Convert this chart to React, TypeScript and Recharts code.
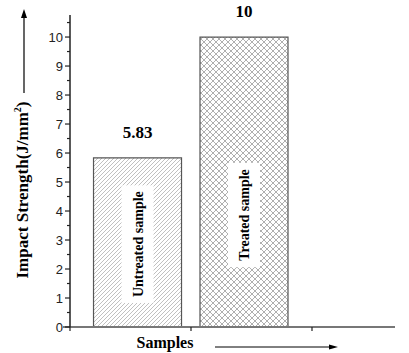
import React from 'react';
import { BarChart, Bar, XAxis, YAxis, LabelList, Cell } from 'recharts';

const categories = ['Untreated sample', 'Treated sample'];
const positions = [0.56, 1.44];
const impactStrength = [5.83, 10];
const valueLabels = ['5.83', '10'];
const yTicks = [0, 0.5, 1, 1.5, 2, 2.5, 3, 3.5, 4, 4.5, 5, 5.5, 6, 6.5, 7, 7.5, 8, 8.5, 9, 9.5, 10, 10.5];
const xTicks = [0, 1, 2];

const data = categories.map((c, i) => ({
  name: c,
  x: positions[i],
  value: impactStrength[i],
  label: valueLabels[i],
}));

const patterns = ['url(#hatch)', 'url(#cross)'];

const SERIF = '"Liberation Serif", "Times New Roman", serif';
const SANS = '"Liberation Sans", Arial, sans-serif';

const YTick = (props: any) => {
  const { x, y, payload } = props;
  const v = payload.value;
  const major = Math.abs(v - Math.round(v)) < 1e-6;
  return (
    <g>
      <line x1={x} x2={x - (major ? 5 : 3)} y1={y} y2={y} stroke="#222" strokeWidth={1.2} />
      {major && (
        <text x={x - 7} y={y} dy={4.5} textAnchor="end" fontFamily={SANS} fontSize={13} fill="#222">
          {v}
        </text>
      )}
    </g>
  );
};

const InsideLabel = (props: any) => {
  const { x, y, width, height, index } = props;
  const text = categories[index];
  const cx = x + width / 2;
  const cy = y + height - Math.min(height * 0.49, 112);
  const len = text.length * 6.6 + 12;
  return (
    <g>
      <rect x={cx - 16} y={cy - len / 2} width={32} height={len} fill="#fff" />
      <text
        x={cx}
        y={cy}
        transform={`rotate(-90 ${cx} ${cy})`}
        textAnchor="middle"
        dy={5}
        fontFamily={SERIF}
        fontWeight="bold"
        fontSize={14}
        fill="#000"
      >
        {text}
      </text>
    </g>
  );
};

const ValueLabel = (props: any) => {
  const { x, y, width, index } = props;
  return (
    <text
      x={x + width / 2}
      y={y - 20}
      textAnchor="middle"
      fontFamily={SERIF}
      fontWeight="bold"
      fontSize={17}
      fill="#000"
    >
      {valueLabels[index]}
    </text>
  );
};

const YLabel = () => (
  <g>
    <text
      x={22}
      y={190}
      transform="rotate(-90 22 190)"
      textAnchor="middle"
      dy={6}
      fontFamily={SERIF}
      fontWeight="bold"
      fontSize={17}
      fill="#000"
    >
      Impact Strength(J/mm<tspan dy={-7} fontSize={10}>2</tspan>
      <tspan dy={7}>)</tspan>
    </text>
    <line x1={24} x2={24} y1={93} y2={16} stroke="#000" strokeWidth={1.2} />
    <path d="M24,9 L21,18 L27,18 Z" fill="#000" />
  </g>
);

const XLabel = () => (
  <g>
    <text x={165} y={348} textAnchor="middle" fontFamily={SERIF} fontWeight="bold" fontSize={16} fill="#000">
      Samples
    </text>
    <line x1={215} x2={330} y1={347} y2={347} stroke="#000" strokeWidth={1} />
    <path d="M338,347 L329,344.5 L329,349.5 Z" fill="#000" />
    <line x1={63} x2={71} y1={327} y2={327} stroke="#777" strokeWidth={2} />
  </g>
);

export default function App() {
  return (
    <div style={{ width: 409, height: 353, background: '#fff' }}>
      <style>{`body{margin:0;}`}</style>
      <BarChart
        width={409}
        height={353}
        data={data}
        margin={{ top: 15, right: 14, bottom: 0, left: 30 }}
      >
        <defs>
          <pattern id="hatch" width="4" height="4" patternUnits="userSpaceOnUse">
            <rect width="4" height="4" fill="#fff" />
            <path d="M-1,1 L1,-1 M0,4 L4,0 M3,5 L5,3" stroke="#b0b0b0" strokeWidth={0.8} />
          </pattern>
          <pattern id="cross" width="6" height="6" patternUnits="userSpaceOnUse">
            <rect width="6" height="6" fill="#fff" />
            <path d="M0,0 L6,6 M6,0 L0,6" stroke="#9a9a9a" strokeWidth={0.8} />
          </pattern>
        </defs>
        <XAxis
          type="number"
          dataKey="x"
          domain={[0, 2.686]}
          ticks={xTicks}
          height={26}
          axisLine={{ stroke: '#777', strokeWidth: 2 }}
          tickLine={{ stroke: '#222', strokeWidth: 1.2 }}
          tickSize={4}
          tickFormatter={() => ''}
          allowDataOverflow
        />
        <YAxis
          type="number"
          domain={[0, 10.76]}
          ticks={yTicks}
          width={40}
          interval={0}
          axisLine={{ stroke: '#222', strokeWidth: 1.5 }}
          tickLine={false}
          tickSize={0}
          tickMargin={0}
          tick={<YTick />}
          allowDataOverflow
        />
        <Bar dataKey="value" barSize={88} stroke="#555" strokeWidth={1.2} isAnimationActive={false}>
          {data.map((d, i) => (
            <Cell key={d.name} fill={patterns[i]} />
          ))}
          <LabelList dataKey="value" content={<InsideLabel />} />
          <LabelList dataKey="label" content={<ValueLabel />} />
        </Bar>
        <YLabel />
        <XLabel />
      </BarChart>
    </div>
  );
}
